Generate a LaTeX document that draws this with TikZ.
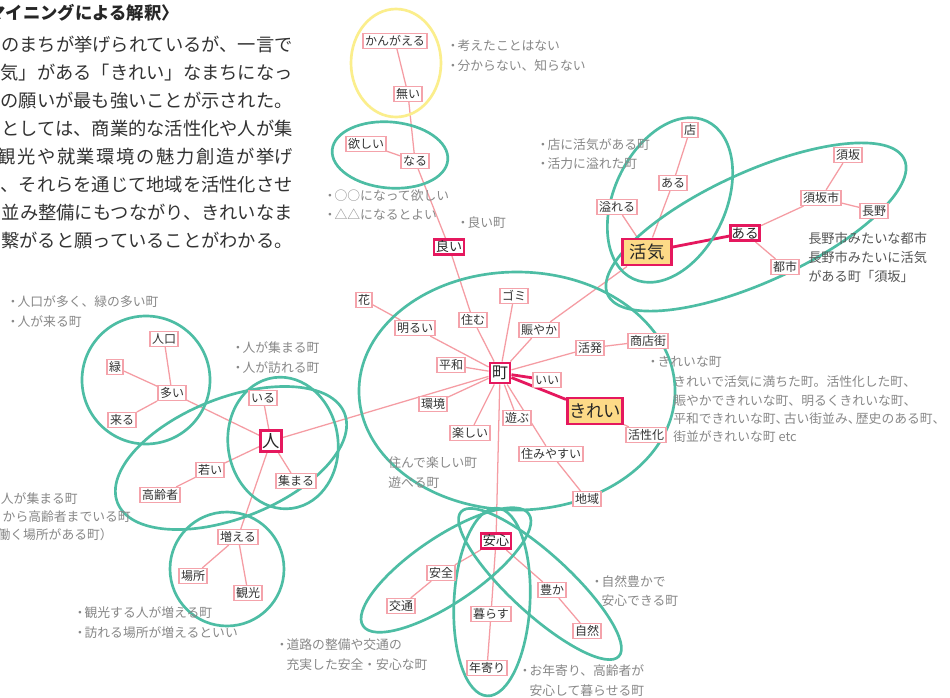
\documentclass[tikz,border=0pt]{standalone}
\usepackage{fontspec}
\setmainfont{Noto Sans CJK JP}
\usetikzlibrary{backgrounds}
\definecolor{tealg}{HTML}{4DBDA4}
\definecolor{pinkL}{HTML}{F59CA3}
\definecolor{pinkB}{HTML}{F4A3AB}
\definecolor{crim}{HTML}{E5185E}
\definecolor{yelF}{HTML}{FDDA87}
\definecolor{yelE}{HTML}{FBEE8C}
\definecolor{txtd}{HTML}{333333}
\definecolor{txtm}{HTML}{555555}
\definecolor{notegray}{HTML}{888888}
\newcommand{\mybul}{\makebox[7pt][c]{・}}
\newcommand{\myind}{\hspace*{7pt}}
\tikzset{
  lbl/.style={draw=pinkB, line width=1.1pt, fill=white, text=txtd,
    font=\fontsize{9}{10}\selectfont, inner xsep=1.6pt, inner ysep=0pt, minimum height=11pt},
  keyn/.style={draw=crim, line width=1.9pt, fill=white, text=black!85,
    font=\fontsize{9.8}{11}\selectfont, inner xsep=1.3pt, inner ysep=0pt, minimum height=11.6pt},
  bign/.style={draw=crim, line width=1.9pt, fill=yelF, text=black!85,
    font=\fontsize{13}{14}\selectfont, inner sep=0pt, minimum height=19.8pt},
  ln/.style={draw=pinkL, line width=0.95pt},
  lnk/.style={draw=crim, line width=2.1pt},
  grp/.style={draw=tealg, line width=2pt},
  notes/.style={text=notegray, font=\fontsize{9.6}{14.6}\selectfont, align=left, anchor=west, inner sep=0pt},
}
\begin{document}
\begin{tikzpicture}[x=0.75pt,y=-0.75pt]
\useasboundingbox (0,0) rectangle (950,697);

% ---- text block top-left
\node[anchor=east, inner sep=0pt, text=black!85, font=\bfseries\fontsize{13}{14}\selectfont] (ttl) at (179,13) {マイニングによる解釈〉};
\node[anchor=east, align=right, inner sep=0pt, text=txtd, font=\fontsize{13.7}{21}\selectfont] (para) at (293,143)
 {のまちが挙げられているが、一言で\\気」がある「きれい」なまちになっ\\の願いが最も強いことが示された。\\としては、商業的な活性化や人が集\\{\addfontfeatures{LetterSpace=9}観光や就業環境の魅力創造が挙}げ\\、それらを通じて地域を活性化させ\\並み整備にもつながり、きれいなま\\繋がると願っていることがわかる。};

% ---- nodes
\node[lbl] (kangaeru) at (395,41) {かんがえる};
\node[lbl] (nai) at (408,94) {無い};
\node[lbl] (hoshii) at (366,144) {欲しい};
\node[lbl] (naru) at (415,161) {なる};
\node[keyn] (yoi) at (449,247) {良い};
\node[lbl] (afureru) at (617,207) {溢れる};
\node[bign, minimum width=37pt] (kakki) at (647,252) {活気};
\node[lbl] (aruA) at (673,183) {ある};
\node[lbl] (mise) at (690,130) {店};
\node[keyn, font=\fontsize{10.2}{11}\selectfont, inner xsep=0.8pt] (aruB) at (745,233) {ある};
\node[lbl] (suzaka) at (848,155) {須坂};
\node[lbl] (suzakashi) at (821,198) {須坂市};
\node[lbl] (nagano) at (874,211) {長野};
\node[lbl] (toshi) at (785,267) {都市};
\node[lbl] (hana) at (364,300) {花};
\node[lbl] (gomi) at (514,296) {ゴミ};
\node[lbl] (sumu) at (473,320) {住む};
\node[lbl] (akarui) at (415,328) {明るい};
\node[lbl] (nigiyaka) at (539,330) {賑やか};
\node[lbl] (kappatsu) at (590,348) {活発};
\node[lbl] (shotengai) at (648,341) {商店街};
\node[lbl] (heiwa) at (451,365) {平和};
\node[keyn, font=\fontsize{12}{13}\selectfont, minimum size=15.3pt, inner sep=0pt] (machi) at (500,373) {町};
\node[lbl] (ii) at (547,380) {いい};
\node[lbl] (kankyo) at (433,404) {環境};
\node[bign, minimum width=41.6pt] (kirei) at (595,411) {きれい};
\node[lbl] (asobu) at (517,418) {遊ぶ};
\node[lbl] (tanoshii) at (470,433) {楽しい};
\node[lbl] (kasseika) at (646,435) {活性化};
\node[lbl] (sumiyasui) at (551,454) {住みやすい};
\node[lbl] (chiiki) at (587,499) {地域};
\node[lbl] (jinko) at (164,339) {人口};
\node[lbl] (midori) at (115,367) {緑};
\node[lbl] (ooi) at (172,393) {多い};
\node[lbl] (kuru) at (122,420) {来る};
\node[lbl] (iru) at (263,398) {いる};
\node[keyn, font=\fontsize{13}{14}\selectfont, minimum size=16pt, inner sep=0pt] (hito) at (271,441) {人};
\node[lbl] (wakai) at (210,470) {若い};
\node[lbl] (atsumaru) at (296,481) {集まる};
\node[lbl] (koreisha) at (160,495) {高齢者};
\node[lbl] (fueru) at (238,537) {増える};
\node[lbl] (basho) at (193,576) {場所};
\node[lbl] (kanko) at (248,593) {観光};
\node[keyn] (anshin) at (496,541) {安心};
\node[lbl] (anzen) at (441,573) {安全};
\node[lbl] (kotsu) at (401,606) {交通};
\node[lbl] (yutaka) at (552,590) {豊か};
\node[lbl] (kurasu) at (491,614) {暮らす};
\node[lbl] (shizen) at (587,631) {自然};
\node[lbl] (toshiyori) at (487,668) {年寄り};

% ---- annotations
\node[notes] (n1) at (448,55.5) {\mybul 考えたことはない\\\mybul 分からない、知らない};
\node[notes] (n2) at (325,205) {\mybul ○○になって欲しい\\\mybul △△になるとよい};
\node[notes] (n3) at (458,223) {\mybul 良い町};
\node[notes] (n4) at (538,154) {\mybul 店に活気がある町\\\mybul 活力に溢れた町};
\node[notes, text=txtm, font=\fontsize{9.9}{14.25}\selectfont] (n5) at (808,257) {長野市みたいな都市\\長野市みたいに活気\\がある町「須坂」};
\node[notes] (n6) at (648,362) {\mybul きれいな町};
\node[notes, font=\fontsize{9.6}{13.7}\selectfont] (n7) at (673,409.5) {きれいで活気に満ちた町。活性化した町、\\賑やかできれいな町、明るくきれいな町、\\平和できれいな町、\hspace{-3.5pt}古い街並み、\hspace{-3.5pt}歴史のある町、\\街並がきれいな町 etc};
\node[notes] (n8) at (8,311.5) {\mybul 人口が多く、緑の多い町\\\mybul 人が来る町};
\node[notes] (n9) at (233,357.5) {\mybul 人が集まる町\\\mybul 人が訪れる町};
\node[notes] (n10) at (388,472.5) {住んで楽しい町\\遊べる町};
\node[notes, anchor=east] (c1) at (78,499) {人が集まる町};
\node[notes, anchor=east] (c2) at (131,517) {から高齢者までいる町};
\node[notes, anchor=east] (c3) at (113,535) {働く場所がある町）};
\node[notes] (n14) at (75,622.5) {\mybul 観光する人が増える町\\\mybul 訪れる場所が増えるといい};
\node[notes] (n15) at (277,654.5) {\mybul 道路の整備や交通の\\\myind 充実した安全・安心な町};
\node[notes] (n16) at (592,591) {\mybul 自然豊かで\\\myind 安心できる町};
\node[notes] (n17) at (520,680.5) {\mybul お年寄り、高齢者が\\\myind 安心して暮らせる町};

\begin{scope}[on background layer]
\fill[white] (0,0) rectangle (950,697);
% connectors
\draw[ln] (kangaeru) -- (nai);
\draw[ln] (nai) -- (naru);
\draw[ln] (hoshii) -- (naru);
\draw[ln] (naru) -- (yoi);
\draw[ln] (yoi) -- (sumu);
\draw[ln] (sumu) -- (machi);
\draw[ln] (hana) -- (akarui);
\draw[ln] (akarui) -- (machi);
\draw[ln] (gomi) -- (machi);
\draw[ln] (nigiyaka) -- (machi);
\draw[ln] (kakki) -- (nigiyaka);
\draw[ln] (kappatsu) -- (machi);
\draw[ln] (kappatsu) -- (shotengai);
\draw[ln] (heiwa) -- (machi);
\draw[ln] (kankyo) -- (machi);
\draw[ln] (hito) -- (machi);
\draw[ln] (tanoshii) -- (machi);
\draw[ln] (asobu) -- (machi);
\draw[ln] (machi) -- (sumiyasui);
\draw[ln] (sumiyasui) -- (chiiki);
\draw[ln] (machi) -- (anshin);
\draw[ln] (kirei) -- (kasseika);
\draw[ln] (kakki) -- (afureru);
\draw[ln] (kakki) -- (aruA);
\draw[ln] (aruA) -- (mise);
\draw[ln] (aruB) -- (suzakashi);
\draw[ln] (suzakashi) -- (suzaka);
\draw[ln] (suzakashi) -- (nagano);
\draw[ln] (aruB) -- (toshi);
\draw[ln] (hito) -- (iru);
\draw[ln] (hito) -- (ooi);
\draw[ln] (ooi) -- (jinko);
\draw[ln] (ooi) -- (midori);
\draw[ln] (ooi) -- (kuru);
\draw[ln] (hito) -- (wakai);
\draw[ln] (wakai) -- (koreisha);
\draw[ln] (hito) -- (atsumaru);
\draw[ln] (hito) -- (fueru);
\draw[ln] (fueru) -- (basho);
\draw[ln] (fueru) -- (kanko);
\draw[ln] (anshin) -- (anzen);
\draw[ln] (anzen) -- (kotsu);
\draw[ln] (anshin) -- (yutaka);
\draw[ln] (yutaka) -- (shizen);
\draw[ln] (anshin) -- (kurasu);
\draw[ln] (kurasu) -- (toshiyori);
\draw[lnk] (machi) -- (ii);
\draw[lnk] (machi) -- (kirei);
\draw[lnk] (kakki) -- (aruB);
% groups
\draw[grp, draw=yelE] (396,63) ellipse [x radius=45, y radius=54];
\draw[grp, rotate around={-5:(390,155)}] (390,155) ellipse [x radius=58, y radius=33];
\draw[grp, rotate around={65:(670,200)}] (670,200) ellipse [x radius=87, y radius=56];
\draw[grp, rotate around={24.5:(756,227)}] (756,227) ellipse [x radius=163, y radius=55];
\draw[grp] (517,391) ellipse [x radius=158, y radius=119];
\draw[grp] (146,380) circle [radius=64];
\draw[grp, rotate around={8:(283,443)}] (283,443) ellipse [x radius=55, y radius=66];
\draw[grp, rotate around={21.5:(231,458)}] (231,458) ellipse [x radius=122, y radius=60];
\draw[grp] (227,569) circle [radius=57];
\draw[grp, rotate around={-3:(492,602)}] (492,602) ellipse [x radius=38, y radius=94];
\draw[grp, rotate around={34:(446,570)}] (446,570) ellipse [x radius=100, y radius=33];
\draw[grp, rotate around={-42.5:(540,584)}] (540,584) ellipse [x radius=107, y radius=30];
\end{scope}
\end{tikzpicture}
\end{document}
